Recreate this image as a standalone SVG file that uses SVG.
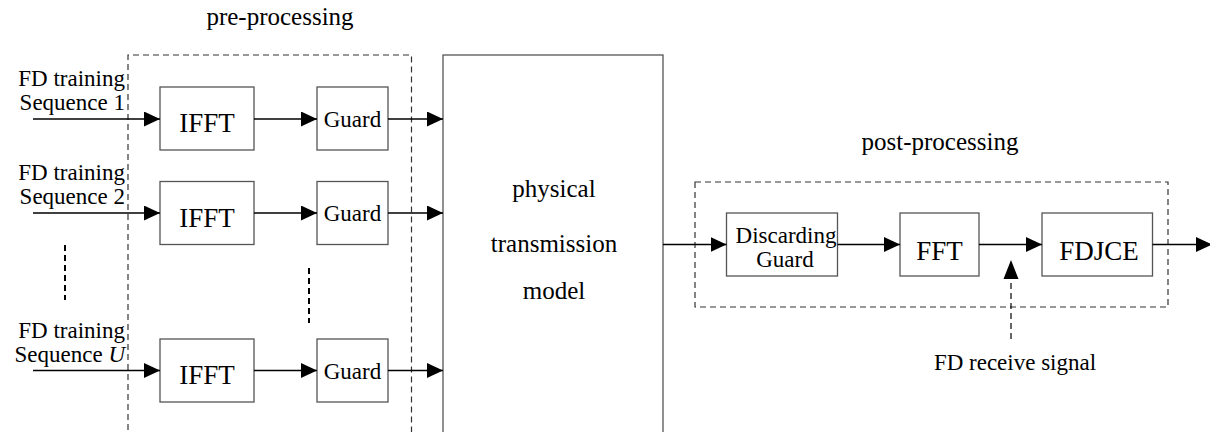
<svg xmlns="http://www.w3.org/2000/svg" width="1210" height="432" viewBox="0 0 1210 432">
<style>
text{font-family:'Liberation Serif','Times New Roman','DejaVu Serif',serif;fill:#000}
.box{fill:#fff;stroke:#555;stroke-width:1.3}
.dash{fill:none;stroke:#333;stroke-width:1.2;stroke-dasharray:6,4}
.ln{fill:none;stroke:#000;stroke-width:1.3}
.s{font-size:23px}
.b{font-size:27px}
.l{font-size:25px}
</style>
<defs>
<marker id="ah" markerUnits="userSpaceOnUse" markerWidth="16" markerHeight="15" refX="16" refY="7.5" orient="auto" viewBox="0 0 16 15">
<path d="M0,0 L16,7.5 L0,15 z" fill="#000"/>
</marker>
</defs>

<g id="pre-processing">
<path class="dash" d="M128,440 V55 H411.5 V440"/>
<text class="l" x="280" y="25" text-anchor="middle" font-family="Liberation Serif, serif">pre-processing</text>
</g>

<g id="post-processing">
<rect class="dash" x="695" y="182" width="473" height="125"/>
<text class="l" x="940" y="150" text-anchor="middle">post-processing</text>
</g>

<g id="labels">
<text class="s" x="125" y="86" text-anchor="end">FD training</text>
<text class="s" x="125" y="109.5" text-anchor="end">Sequence 1</text>
<text class="s" x="125" y="180" text-anchor="end">FD training</text>
<text class="s" x="125" y="203.5" text-anchor="end">Sequence 2</text>
<text class="s" x="125" y="338" text-anchor="end">FD training</text>
<text class="s" x="125" y="361.5" text-anchor="end">Sequence <tspan font-style="italic">U</tspan></text>
<text class="s" x="1015" y="370" text-anchor="middle">FD receive signal</text>
</g>

<g id="ifft1"><rect class="box" x="160" y="87" width="94" height="63"/><text class="b" x="207" y="132" text-anchor="middle">IFFT</text></g>
<g id="guard1"><rect class="box" x="317" y="87" width="71" height="63"/><text class="s" x="352.5" y="126.5" text-anchor="middle">Guard</text></g>
<g id="ifft2"><rect class="box" x="160" y="181.5" width="94" height="63"/><text class="b" x="207" y="226.5" text-anchor="middle">IFFT</text></g>
<g id="guard2"><rect class="box" x="317" y="181.5" width="71" height="63"/><text class="s" x="352.5" y="221" text-anchor="middle">Guard</text></g>
<g id="ifft3"><rect class="box" x="160" y="339" width="94" height="63"/><text class="b" x="207" y="384" text-anchor="middle">IFFT</text></g>
<g id="guard3"><rect class="box" x="317" y="339" width="71" height="63"/><text class="s" x="352.5" y="378.5" text-anchor="middle">Guard</text></g>

<g id="physical">
<rect class="box" x="443" y="55" width="220" height="400"/>
<text class="l" x="554" y="197" text-anchor="middle">physical</text>
<text class="l" x="554" y="252" text-anchor="middle">transmission</text>
<text class="l" x="554" y="299" text-anchor="middle">model</text>
</g>

<g id="discarding">
<rect class="box" x="726.5" y="213" width="111" height="63"/>
<text class="s" x="786" y="243" text-anchor="middle">Discarding</text>
<text class="s" x="785" y="267" text-anchor="middle">Guard</text>
</g>
<g id="fft"><rect class="box" x="900" y="213" width="79" height="63"/><text class="b" x="939.5" y="260" text-anchor="middle">FFT</text></g>
<g id="fdjce"><rect class="box" x="1042" y="213" width="110.5" height="63"/><text class="b" x="1099" y="260" text-anchor="middle" font-size="28">FDJCE</text></g>

<g id="connectors">
<line class="ln" x1="33" y1="119" x2="160" y2="119" marker-end="url(#ah)"/>
<line class="ln" x1="254" y1="119" x2="317" y2="119" marker-end="url(#ah)"/>
<line class="ln" x1="388" y1="119" x2="443" y2="119" marker-end="url(#ah)"/>
<line class="ln" x1="33" y1="213" x2="160" y2="213" marker-end="url(#ah)"/>
<line class="ln" x1="254" y1="213" x2="317" y2="213" marker-end="url(#ah)"/>
<line class="ln" x1="388" y1="213" x2="443" y2="213" marker-end="url(#ah)"/>
<line class="ln" x1="33" y1="370.5" x2="160" y2="370.5" marker-end="url(#ah)"/>
<line class="ln" x1="254" y1="370.5" x2="317" y2="370.5" marker-end="url(#ah)"/>
<line class="ln" x1="388" y1="370.5" x2="443" y2="370.5" marker-end="url(#ah)"/>
<line class="ln" x1="663" y1="244.5" x2="726.5" y2="244.5" marker-end="url(#ah)"/>
<line class="ln" x1="837.5" y1="244.5" x2="900" y2="244.5" marker-end="url(#ah)"/>
<line class="ln" x1="979" y1="244.5" x2="1042" y2="244.5" marker-end="url(#ah)"/>
<line class="ln" x1="1152.5" y1="244.5" x2="1212" y2="244.5" marker-end="url(#ah)"/>
<line class="dash" x1="1011" y1="339" x2="1011" y2="262" style="stroke:#000"/>
<path d="M1003.5,279 L1011,260 L1018.5,279 z" fill="#000"/>
<line class="dash" x1="65" y1="245" x2="65" y2="300" style="stroke:#000;stroke-width:2"/>
<line class="dash" x1="309" y1="268" x2="309" y2="323" style="stroke:#000;stroke-width:2"/>
</g>
</svg>
